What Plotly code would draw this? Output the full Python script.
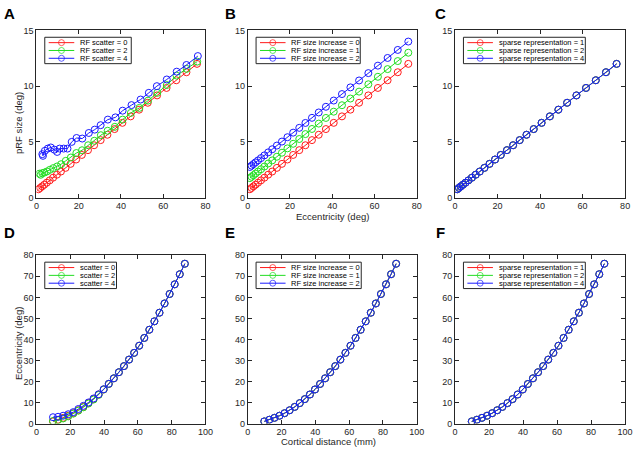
import plotly.graph_objects as go

W, H = 640, 451

# eccentricity of the pRF centres (deg), scatter = 0
ecc = [1.0, 1.8, 2.7, 3.7, 4.9, 6.3, 7.9, 9.7, 11.6, 13.8, 16.2, 18.8, 21.5, 24.4,
       27.3, 30.4, 33.6, 37.0, 40.7, 44.6, 48.6, 52.7, 57.1, 61.6, 66.2, 71.0, 76.0]

# pRF size (deg) for the baseline model
size0 = [0.75, 0.87, 1.01, 1.16, 1.34, 1.55, 1.79, 2.06, 2.34, 2.67, 3.03, 3.42, 3.83, 4.26,
         4.70, 5.16, 5.64, 6.15, 6.71, 7.29, 7.89, 8.51, 9.17, 9.84, 10.53, 11.25, 12.0]

# A: RF scatter = 2 / 4
ecc_sc2 = [1.4, 2.0, 2.8, 3.8, 5.0, 6.4, 8.0, 9.8, 11.7, 13.9, 16.3, 18.9, 21.6, 24.5,
           27.4, 30.5, 33.7, 37.1, 40.8, 44.7, 48.7, 52.8, 57.2, 61.7, 66.3, 71.1, 76.1]
size_sc2 = [2.15, 2.05, 2.2, 2.25, 2.35, 2.5, 2.65, 2.8, 3.0, 3.3, 3.6, 4.0, 4.25, 4.7,
            5.1, 5.6, 6.0, 6.35, 7.0, 7.6, 8.05, 8.7, 9.4, 10.1, 10.95, 11.55, 12.2]
ecc_sc4 = [2.8, 3.1, 4.0, 5.4, 6.8, 8.5, 9.8, 11.0, 12.9, 14.7, 16.7, 19.0, 21.7, 24.8,
           27.6, 30.4, 33.8, 37.4, 40.8, 45.0, 49.3, 53.2, 57.0, 61.7, 66.4, 71.0, 76.4]
size_sc4 = [3.9, 3.75, 4.2, 4.4, 4.5, 4.3, 4.1, 4.4, 4.4, 4.4, 5.0, 5.35, 5.3, 5.8,
            6.1, 6.5, 7.0, 7.2, 7.8, 8.3, 8.8, 9.4, 10.0, 10.6, 11.3, 11.9, 12.7]

# B: RF size increase = 1 / 2
size_inc1 = [1.75, 1.87, 2.01, 2.16, 2.34, 2.55, 2.79, 3.06, 3.34, 3.67, 4.03, 4.42, 4.83, 5.26,
             5.70, 6.16, 6.64, 7.15, 7.71, 8.29, 8.89, 9.51, 10.17, 10.84, 11.53, 12.25, 13.0]
size_inc2 = [2.75, 2.87, 3.01, 3.16, 3.34, 3.55, 3.79, 4.06, 4.34, 4.67, 5.03, 5.42, 5.83, 6.26,
             6.70, 7.16, 7.64, 8.15, 8.71, 9.29, 9.89, 10.51, 11.17, 11.84, 12.53, 13.25, 14.0]

# D-F: cortical distance (mm) and measured eccentricity (deg)
dist = [9.8, 12.8, 15.8, 18.8, 21.8, 24.8, 27.8, 30.8, 33.8, 36.8, 39.8, 42.8, 45.8, 48.8,
        51.8, 54.8, 57.8, 60.8, 63.8, 66.8, 69.8, 72.8, 75.8, 78.8, 81.8, 84.8, 87.8]
ecc_d2 = [1.2, 1.6, 2.4, 3.4, 4.7, 6.1, 7.7, 9.5, 11.4, 13.6, 16.2, 18.8, 21.5, 24.4,
          27.3, 30.4, 33.6, 37.0, 40.7, 44.6, 48.6, 52.7, 57.1, 61.6, 66.2, 71.0, 76.0]
ecc_d4 = [3.0, 3.2, 3.7, 4.4, 5.4, 6.9, 8.4, 10.0, 11.9, 13.9, 16.3, 18.9, 21.5, 24.4,
          27.3, 30.4, 33.6, 37.0, 40.7, 44.6, 48.6, 52.7, 57.1, 61.6, 66.2, 71.0, 76.0]

legend_a = ["RF scatter = 0", "RF scatter = 2", "RF scatter = 4"]
legend_b = ["RF size increase = 0", "RF size increase = 1", "RF size increase = 2"]
legend_c = ["sparse representation = 1", "sparse representation = 2", "sparse representation = 4"]
legend_d = ["scatter = 0", "scatter = 2", "scatter = 4"]

COLORS = ["#ff1a1a", "#22dd22", "#1a1aff"]
FONT = "Liberation Sans, Arial, sans-serif"
INK = "#262626"

# pixel boxes of the six axes
col_px = [(34, 206), (249, 421), (460, 633)]
row_px = [(26, 197), (256, 428)]

panels = [
    ([(ecc, size0), (ecc_sc2, size_sc2), (ecc_sc4, size_sc4)], legend_a, 88),
    ([(ecc, size0), (ecc, size_inc1), (ecc, size_inc2)], legend_b, 106),
    ([(ecc, size0), (ecc, size0), (ecc, size0)], legend_c, 124),
    ([(dist, ecc), (dist, ecc_d2), (dist, ecc_d4)], legend_d, 73),
    ([(dist, ecc), (dist, ecc), (dist, ecc)], legend_b, 107),
    ([(dist, ecc), (dist, ecc), (dist, ecc)], legend_c, 124),
]

fig = go.Figure()
layout = {}
for k, (series, labels, lw) in enumerate(panels):
    r, c = divmod(k, 3)
    n = k + 1
    x0, x1 = col_px[c]
    y0, y1 = row_px[r]
    axis = dict(showline=True, linecolor=INK, linewidth=1, mirror="allticks",
                ticks="inside", ticklen=4, tickwidth=1, tickcolor=INK,
                showgrid=False, zeroline=False,
                tickfont=dict(family=FONT, size=9, color=INK))
    if r == 0:
        xr, xd, yr, yd = [0, 80], 20, [0, 15], 5
    else:
        xr, xd, yr, yd = [0, 100], 20, [0, 80], 10
    layout[f"xaxis{n}"] = dict(axis, domain=[x0 / W, x1 / W], range=xr, dtick=xd,
                               anchor=f"y{n}")
    layout[f"yaxis{n}"] = dict(axis, domain=[1 - y1 / H, 1 - y0 / H], range=yr, dtick=yd,
                               anchor=f"x{n}")
    for (xs, ys), col in zip(series, COLORS):
        fig.add_trace(go.Scatter(
            x=xs, y=ys, mode="lines+markers", xaxis=f"x{n}", yaxis=f"y{n}",
            line=dict(color=col, width=1),
            marker=dict(symbol="circle-open", size=7, color=col, line=dict(width=1)),
            showlegend=False, hoverinfo="skip"))

# pixel overlay axes for legends and labels
layout["xaxis7"] = dict(domain=[0, 1], range=[0, W], visible=False, anchor="y7")
layout["yaxis7"] = dict(domain=[0, 1], range=[H, 0], visible=False, anchor="x7")

annotations = []
for k, (series, labels, lw) in enumerate(panels):
    r, c = divmod(k, 3)
    left = col_px[c][0] + 8.5
    top = row_px[r][0] + 7
    bh = 27
    # opaque legend box
    fig.add_trace(go.Scatter(
        x=[left, left + lw, left + lw, left, left], y=[top, top, top + bh, top + bh, top],
        mode="lines", fill="toself", fillcolor="white", xaxis="x7", yaxis="y7",
        line=dict(color=INK, width=1), showlegend=False, hoverinfo="skip"))
    for i, (lab, col) in enumerate(zip(labels, COLORS)):
        yy = top + 5.5 + 8 * i
        fig.add_trace(go.Scatter(
            x=[left + 4, left + 17, left + 30], y=[yy] * 3, mode="lines+markers",
            xaxis="x7", yaxis="y7", line=dict(color=col, width=1),
            marker=dict(symbol="circle-open", size=[0, 6, 0], color=col, line=dict(width=1)),
            showlegend=False, hoverinfo="skip"))
        annotations.append(dict(xref="x7", yref="y7", x=left + 34, y=yy, text=lab,
                                showarrow=False, xanchor="left", yanchor="middle",
                                font=dict(family=FONT, size=7.5, color="black")))

for lab, (x, y) in zip("ABCDEF", [(7, 9), (231, 9), (445, 9), (7, 233), (231, 233), (445, 233)]):
    annotations.append(dict(xref="x7", yref="y7", x=x, y=y, text=f"<b>{lab}</b>",
                            showarrow=False, xanchor="center", yanchor="middle",
                            font=dict(family=FONT, size=15, color="black")))

titles = [("pRF size (deg)", 16, 121, -90), ("Eccentricity (deg)", 335, 216.5, 0),
          ("Eccentricity (deg)", 16, 346, -90), ("Cortical distance (mm)", 331, 446.5, 0)]
for text, x, y, ang in titles:
    annotations.append(dict(xref="x7", yref="y7", x=x, y=y, text=text, textangle=ang,
                            showarrow=False, xanchor="center", yanchor="middle",
                            font=dict(family=FONT, size=9.5, color=INK)))

fig.update_layout(**layout)
fig.update_layout(width=W, height=H, margin=dict(l=0, r=0, t=0, b=0),
                  paper_bgcolor="white", plot_bgcolor="rgba(0,0,0,0)",
                  annotations=annotations, showlegend=False)
# drop the browser's default page margin so the figure fills the window
fig.write_html("out.html", config={"displayModeBar": False},
               post_script="document.body.style.margin='0';")
